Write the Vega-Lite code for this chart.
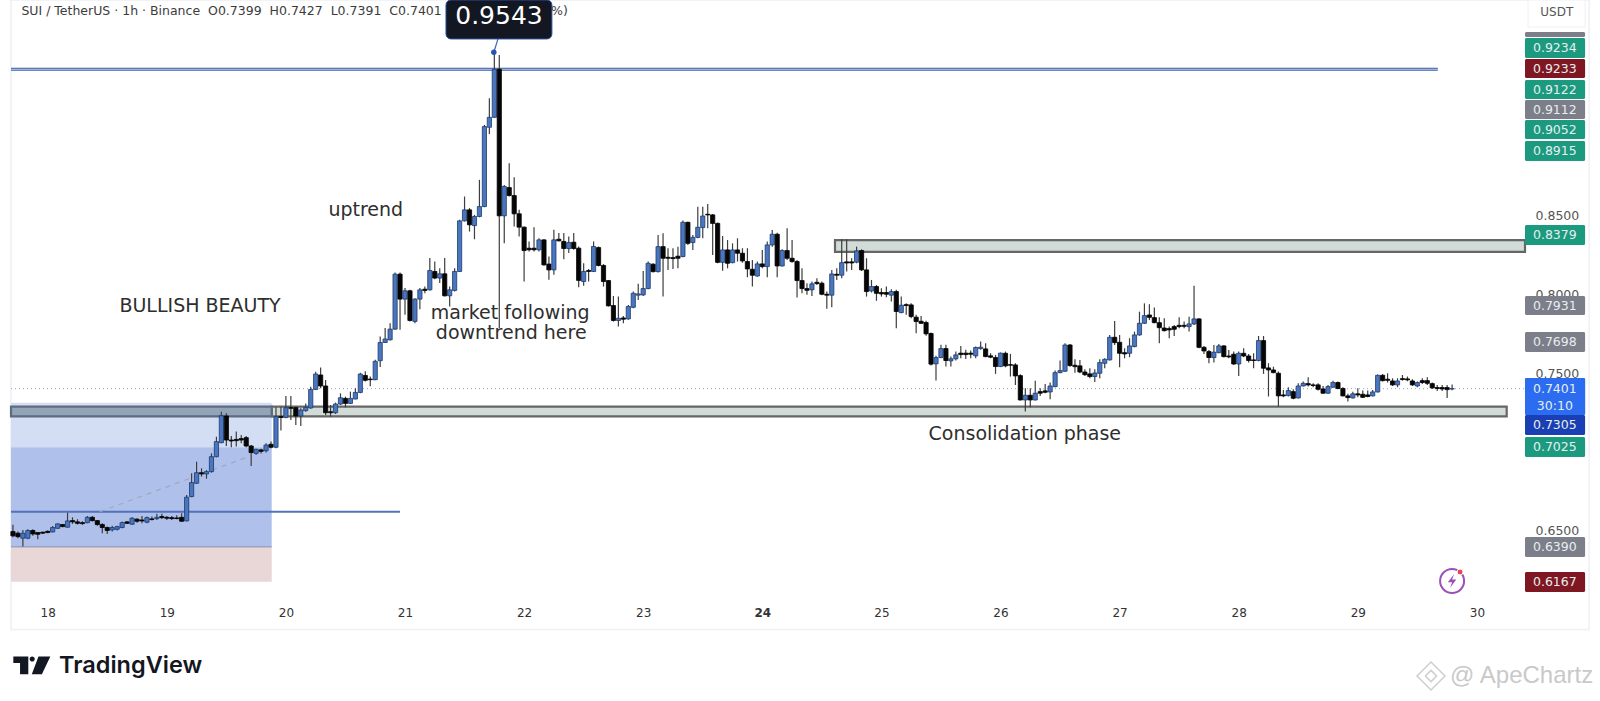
{
"$schema":"https://vega.github.io/schema/vega-lite/v6.json",
"width":1514,"height":600,
"autosize":{"type":"none"},
"padding":{"left":11,"top":0,"right":75,"bottom":101},
"background":"white",
"config":{"view":{"stroke":null},"font":"DejaVu Sans"},
"datasets":{
"candles":[
{"h":-7,"o":0.6491,"hi":0.6534,"lo":0.6455,"c":0.6464},{"h":-6,"o":0.6481,"hi":0.6491,"lo":0.6449,"c":0.6459},{"h":-5,"o":0.6449,"hi":0.6502,"lo":0.6396,"c":0.6481},{"h":-4,"o":0.6449,"hi":0.6506,"lo":0.6442,"c":0.6498},{"h":-3,"o":0.6498,"hi":0.6506,"lo":0.6464,"c":0.6476},{"h":-2,"o":0.6485,"hi":0.6485,"lo":0.6442,"c":0.6474},{"h":-1,"o":0.6487,"hi":0.6491,"lo":0.6476,"c":0.6481},
{"h":0,"o":0.6493,"hi":0.6498,"lo":0.6481,"c":0.6485},{"h":1,"o":0.6489,"hi":0.6527,"lo":0.6487,"c":0.6517},{"h":2,"o":0.6512,"hi":0.6544,"lo":0.651,"c":0.654},{"h":3,"o":0.6536,"hi":0.654,"lo":0.6519,"c":0.6523},{"h":4,"o":0.6519,"hi":0.6612,"lo":0.6517,"c":0.6559},{"h":5,"o":0.6561,"hi":0.6582,"lo":0.654,"c":0.6553},{"h":6,"o":0.6553,"hi":0.657,"lo":0.6536,"c":0.6544},{"h":7,"o":0.6548,"hi":0.6557,"lo":0.6534,"c":0.6542},
{"h":8,"o":0.6548,"hi":0.6591,"lo":0.6544,"c":0.6582},{"h":9,"o":0.6582,"hi":0.6591,"lo":0.6555,"c":0.6561},{"h":10,"o":0.6561,"hi":0.6565,"lo":0.6529,"c":0.6536},{"h":11,"o":0.6536,"hi":0.6544,"lo":0.6481,"c":0.6517},{"h":12,"o":0.6517,"hi":0.6523,"lo":0.6476,"c":0.6498},{"h":13,"o":0.6502,"hi":0.6529,"lo":0.6491,"c":0.6517},{"h":14,"o":0.6506,"hi":0.6529,"lo":0.6498,"c":0.6523},{"h":15,"o":0.6517,"hi":0.6555,"lo":0.6512,"c":0.6548},
{"h":16,"o":0.6553,"hi":0.6557,"lo":0.654,"c":0.6544},{"h":17,"o":0.6538,"hi":0.6582,"lo":0.6534,"c":0.6576},{"h":18,"o":0.657,"hi":0.6576,"lo":0.6548,"c":0.6557},{"h":19,"o":0.6565,"hi":0.6591,"lo":0.6544,"c":0.6559},{"h":20,"o":0.6551,"hi":0.6587,"lo":0.6544,"c":0.658},{"h":21,"o":0.6572,"hi":0.6587,"lo":0.6561,"c":0.6568},{"h":22,"o":0.6574,"hi":0.6604,"lo":0.6565,"c":0.6582},{"h":23,"o":0.6587,"hi":0.6604,"lo":0.6572,"c":0.658},
{"h":24,"o":0.6582,"hi":0.6591,"lo":0.6565,"c":0.6576},{"h":25,"o":0.658,"hi":0.6591,"lo":0.6565,"c":0.6574},{"h":26,"o":0.6578,"hi":0.6595,"lo":0.657,"c":0.6574},{"h":27,"o":0.6582,"hi":0.6608,"lo":0.6553,"c":0.6557},{"h":28,"o":0.6559,"hi":0.6724,"lo":0.6557,"c":0.671},{"h":29,"o":0.6714,"hi":0.6862,"lo":0.671,"c":0.6803},{"h":30,"o":0.6799,"hi":0.6936,"lo":0.6794,"c":0.6866},{"h":31,"o":0.6866,"hi":0.6894,"lo":0.6841,"c":0.6858},
{"h":32,"o":0.6858,"hi":0.6883,"lo":0.6828,"c":0.6873},{"h":33,"o":0.6873,"hi":0.6989,"lo":0.6866,"c":0.6968},{"h":34,"o":0.6968,"hi":0.7095,"lo":0.6964,"c":0.7064},{"h":35,"o":0.7057,"hi":0.7254,"lo":0.7053,"c":0.7229},{"h":36,"o":0.7227,"hi":0.7244,"lo":0.7036,"c":0.7074},{"h":37,"o":0.7074,"hi":0.71,"lo":0.7028,"c":0.7068},{"h":38,"o":0.7078,"hi":0.7129,"lo":0.7032,"c":0.707},{"h":39,"o":0.7083,"hi":0.7106,"lo":0.7053,"c":0.7074},
{"h":40,"o":0.7089,"hi":0.71,"lo":0.7028,"c":0.7036},{"h":41,"o":0.7036,"hi":0.7042,"lo":0.6909,"c":0.6994},{"h":42,"o":0.6989,"hi":0.7019,"lo":0.6981,"c":0.7015},{"h":43,"o":0.7011,"hi":0.7019,"lo":0.6989,"c":0.7002},{"h":44,"o":0.7006,"hi":0.7053,"lo":0.6994,"c":0.7042},{"h":45,"o":0.7047,"hi":0.7064,"lo":0.7021,"c":0.7028},{"h":46,"o":0.7028,"hi":0.7282,"lo":0.7021,"c":0.7223},{"h":47,"o":0.7223,"hi":0.7286,"lo":0.7134,"c":0.7218},
{"h":48,"o":0.7218,"hi":0.7354,"lo":0.7212,"c":0.728},{"h":49,"o":0.728,"hi":0.7354,"lo":0.7201,"c":0.7276},{"h":50,"o":0.728,"hi":0.7286,"lo":0.717,"c":0.7227},{"h":51,"o":0.7227,"hi":0.7276,"lo":0.7163,"c":0.7265},{"h":52,"o":0.7261,"hi":0.7307,"lo":0.7254,"c":0.7282},{"h":53,"o":0.7278,"hi":0.7413,"lo":0.7273,"c":0.7396},{"h":54,"o":0.7396,"hi":0.7509,"lo":0.7392,"c":0.7494},{"h":55,"o":0.7488,"hi":0.7536,"lo":0.7403,"c":0.7418},
{"h":56,"o":0.7418,"hi":0.7456,"lo":0.7233,"c":0.7248},{"h":57,"o":0.7254,"hi":0.7297,"lo":0.7223,"c":0.7248},{"h":58,"o":0.7248,"hi":0.7312,"lo":0.724,"c":0.7303},{"h":59,"o":0.7303,"hi":0.7371,"lo":0.7297,"c":0.7343},{"h":60,"o":0.7339,"hi":0.735,"lo":0.7282,"c":0.7307},{"h":61,"o":0.7307,"hi":0.7382,"lo":0.7303,"c":0.7339},{"h":62,"o":0.7335,"hi":0.7403,"lo":0.7333,"c":0.7377},{"h":63,"o":0.7377,"hi":0.7502,"lo":0.7371,"c":0.7494},
{"h":64,"o":0.7485,"hi":0.7511,"lo":0.7447,"c":0.7454},{"h":65,"o":0.7462,"hi":0.7479,"lo":0.7416,"c":0.7458},{"h":66,"o":0.7458,"hi":0.7585,"lo":0.7454,"c":0.7575},{"h":67,"o":0.7579,"hi":0.7733,"lo":0.7539,"c":0.7695},{"h":68,"o":0.7695,"hi":0.7787,"lo":0.7691,"c":0.7717},{"h":69,"o":0.7712,"hi":0.7818,"lo":0.7708,"c":0.778},{"h":70,"o":0.778,"hi":0.814,"lo":0.7776,"c":0.813},{"h":71,"o":0.813,"hi":0.814,"lo":0.7776,"c":0.7971},
{"h":72,"o":0.7971,"hi":0.8041,"lo":0.7871,"c":0.8024},{"h":73,"o":0.8024,"hi":0.803,"lo":0.7829,"c":0.7835},{"h":74,"o":0.7829,"hi":0.7977,"lo":0.7818,"c":0.7971},{"h":75,"o":0.7971,"hi":0.8041,"lo":0.7907,"c":0.803},{"h":76,"o":0.8034,"hi":0.8051,"lo":0.8009,"c":0.8026},{"h":77,"o":0.803,"hi":0.8232,"lo":0.8026,"c":0.8153},{"h":78,"o":0.8147,"hi":0.8211,"lo":0.8098,"c":0.8105},{"h":79,"o":0.8105,"hi":0.8168,"lo":0.8073,"c":0.8132},
{"h":80,"o":0.8132,"hi":0.8232,"lo":0.7988,"c":0.7992},{"h":81,"o":0.7992,"hi":0.8051,"lo":0.7924,"c":0.803},{"h":82,"o":0.8026,"hi":0.8168,"lo":0.802,"c":0.8147},{"h":83,"o":0.8147,"hi":0.8476,"lo":0.8143,"c":0.8469},{"h":84,"o":0.8469,"hi":0.8624,"lo":0.8465,"c":0.8539},{"h":85,"o":0.8539,"hi":0.855,"lo":0.8401,"c":0.8444},{"h":86,"o":0.8439,"hi":0.8507,"lo":0.8352,"c":0.8497},{"h":87,"o":0.8497,"hi":0.873,"lo":0.8492,"c":0.856},
{"h":88,"o":0.856,"hi":0.908,"lo":0.8556,"c":0.9069},{"h":89,"o":0.9065,"hi":0.9249,"lo":0.9022,"c":0.9128},{"h":90,"o":0.9128,"hi":0.9543,"lo":0.9124,"c":0.9434},{"h":91,"o":0.9434,"hi":0.9525,"lo":0.7787,"c":0.8501},{"h":92,"o":0.8501,"hi":0.8698,"lo":0.8327,"c":0.8688},{"h":93,"o":0.8681,"hi":0.8836,"lo":0.8624,"c":0.863},{"h":94,"o":0.863,"hi":0.8747,"lo":0.8433,"c":0.8514},{"h":95,"o":0.8514,"hi":0.8539,"lo":0.837,"c":0.8429},
{"h":96,"o":0.8429,"hi":0.8433,"lo":0.8083,"c":0.828},{"h":97,"o":0.8295,"hi":0.8338,"lo":0.8274,"c":0.8285},{"h":98,"o":0.8295,"hi":0.8429,"lo":0.8274,"c":0.8285},{"h":99,"o":0.8285,"hi":0.8359,"lo":0.8274,"c":0.8348},{"h":100,"o":0.8348,"hi":0.8352,"lo":0.8183,"c":0.8189},{"h":101,"o":0.8194,"hi":0.8242,"lo":0.8094,"c":0.8157},{"h":102,"o":0.8157,"hi":0.8412,"lo":0.8126,"c":0.8348},{"h":103,"o":0.8352,"hi":0.8391,"lo":0.8338,"c":0.8342},
{"h":104,"o":0.8338,"hi":0.8391,"lo":0.8225,"c":0.8293},{"h":105,"o":0.8293,"hi":0.837,"lo":0.8264,"c":0.8331},{"h":106,"o":0.8333,"hi":0.8391,"lo":0.8285,"c":0.8293},{"h":107,"o":0.8295,"hi":0.8306,"lo":0.8047,"c":0.809},{"h":108,"o":0.8083,"hi":0.82,"lo":0.8056,"c":0.8147},{"h":109,"o":0.8153,"hi":0.8162,"lo":0.8083,"c":0.8147},{"h":110,"o":0.8147,"hi":0.8338,"lo":0.8143,"c":0.8306},{"h":111,"o":0.8299,"hi":0.8306,"lo":0.8179,"c":0.8185},
{"h":112,"o":0.8185,"hi":0.8194,"lo":0.8051,"c":0.8083},{"h":113,"o":0.8089,"hi":0.8093,"lo":0.7924,"c":0.7928},{"h":114,"o":0.793,"hi":0.7991,"lo":0.7828,"c":0.7835},{"h":115,"o":0.7835,"hi":0.7987,"lo":0.7796,"c":0.7849},{"h":116,"o":0.7851,"hi":0.7864,"lo":0.7817,"c":0.7843},{"h":117,"o":0.7845,"hi":0.7934,"lo":0.7839,"c":0.7924},{"h":118,"o":0.7919,"hi":0.8019,"lo":0.7913,"c":0.8008},{"h":119,"o":0.7996,"hi":0.8068,"lo":0.7966,"c":0.8004},
{"h":120,"o":0.7998,"hi":0.815,"lo":0.7991,"c":0.8038},{"h":121,"o":0.8038,"hi":0.821,"lo":0.8034,"c":0.8199},{"h":122,"o":0.8193,"hi":0.8199,"lo":0.814,"c":0.8146},{"h":123,"o":0.8146,"hi":0.8379,"lo":0.814,"c":0.8305},{"h":124,"o":0.8305,"hi":0.839,"lo":0.7987,"c":0.8231},{"h":125,"o":0.8237,"hi":0.8295,"lo":0.8157,"c":0.8231},{"h":126,"o":0.8235,"hi":0.8295,"lo":0.8163,"c":0.8229},{"h":127,"o":0.8244,"hi":0.8305,"lo":0.8167,"c":0.8231},
{"h":128,"o":0.8242,"hi":0.8471,"lo":0.8237,"c":0.846},{"h":129,"o":0.846,"hi":0.8464,"lo":0.8316,"c":0.8326},{"h":130,"o":0.8331,"hi":0.8379,"lo":0.8284,"c":0.8364},{"h":131,"o":0.8364,"hi":0.8559,"lo":0.8358,"c":0.8428},{"h":132,"o":0.8426,"hi":0.8559,"lo":0.8358,"c":0.85},{"h":133,"o":0.8511,"hi":0.8577,"lo":0.8422,"c":0.8507},{"h":134,"o":0.8507,"hi":0.8513,"lo":0.8252,"c":0.8453},{"h":135,"o":0.8453,"hi":0.8458,"lo":0.8199,"c":0.8205},
{"h":136,"o":0.8205,"hi":0.8373,"lo":0.8152,"c":0.8284},{"h":137,"o":0.8284,"hi":0.8347,"lo":0.8167,"c":0.8199},{"h":138,"o":0.8203,"hi":0.8326,"lo":0.8199,"c":0.8284},{"h":139,"o":0.8284,"hi":0.8358,"lo":0.821,"c":0.8263},{"h":140,"o":0.8263,"hi":0.8295,"lo":0.8203,"c":0.8214},{"h":141,"o":0.821,"hi":0.8295,"lo":0.811,"c":0.8163},{"h":142,"o":0.8161,"hi":0.822,"lo":0.8051,"c":0.8123},{"h":143,"o":0.8118,"hi":0.821,"lo":0.8114,"c":0.8195},
{"h":144,"o":0.8195,"hi":0.8284,"lo":0.8167,"c":0.8178},{"h":145,"o":0.8178,"hi":0.8337,"lo":0.811,"c":0.8316},{"h":146,"o":0.8316,"hi":0.8411,"lo":0.8305,"c":0.8384},{"h":147,"o":0.8384,"hi":0.8394,"lo":0.811,"c":0.8182},{"h":148,"o":0.8182,"hi":0.8288,"lo":0.8178,"c":0.828},{"h":149,"o":0.828,"hi":0.8422,"lo":0.822,"c":0.8231},{"h":150,"o":0.8231,"hi":0.8347,"lo":0.8203,"c":0.821},{"h":151,"o":0.821,"hi":0.822,"lo":0.7981,"c":0.8089},
{"h":152,"o":0.8089,"hi":0.8167,"lo":0.8008,"c":0.8038},{"h":153,"o":0.8038,"hi":0.8072,"lo":0.7998,"c":0.8027},{"h":154,"o":0.803,"hi":0.8083,"lo":0.7991,"c":0.8068},{"h":155,"o":0.8078,"hi":0.8104,"lo":0.8061,"c":0.807},{"h":156,"o":0.8072,"hi":0.8083,"lo":0.7996,"c":0.8002},{"h":157,"o":0.8002,"hi":0.8019,"lo":0.7909,"c":0.7996},{"h":158,"o":0.7996,"hi":0.8157,"lo":0.7919,"c":0.8131},{"h":159,"o":0.8129,"hi":0.8167,"lo":0.8093,"c":0.8123},
{"h":160,"o":0.8123,"hi":0.8352,"lo":0.8104,"c":0.8203},{"h":161,"o":0.8208,"hi":0.8352,"lo":0.8146,"c":0.8201},{"h":162,"o":0.8208,"hi":0.8231,"lo":0.8157,"c":0.8201},{"h":163,"o":0.8206,"hi":0.8305,"lo":0.8199,"c":0.8278},{"h":164,"o":0.828,"hi":0.8288,"lo":0.815,"c":0.8157},{"h":165,"o":0.8157,"hi":0.8231,"lo":0.7987,"c":0.8019},{"h":166,"o":0.8023,"hi":0.8093,"lo":0.8013,"c":0.8051},{"h":167,"o":0.8051,"hi":0.8061,"lo":0.796,"c":0.8008},
{"h":168,"o":0.8013,"hi":0.804,"lo":0.7987,"c":0.8004},{"h":169,"o":0.8013,"hi":0.8051,"lo":0.7983,"c":0.8002},{"h":170,"o":0.7996,"hi":0.8034,"lo":0.7955,"c":0.8019},{"h":171,"o":0.8019,"hi":0.803,"lo":0.7786,"c":0.7892},{"h":172,"o":0.7885,"hi":0.7987,"lo":0.7881,"c":0.7932},{"h":173,"o":0.7936,"hi":0.7945,"lo":0.7871,"c":0.793},{"h":174,"o":0.7934,"hi":0.7945,"lo":0.7849,"c":0.786},{"h":175,"o":0.7856,"hi":0.7871,"lo":0.7754,"c":0.7828},
{"h":176,"o":0.783,"hi":0.7864,"lo":0.7813,"c":0.7817},{"h":177,"o":0.7822,"hi":0.7834,"lo":0.7737,"c":0.775},{"h":178,"o":0.7752,"hi":0.7758,"lo":0.7548,"c":0.7557},{"h":179,"o":0.7559,"hi":0.761,"lo":0.7453,"c":0.7599},{"h":180,"o":0.7599,"hi":0.768,"lo":0.7595,"c":0.7656},{"h":181,"o":0.7656,"hi":0.768,"lo":0.7542,"c":0.758},{"h":182,"o":0.7578,"hi":0.7606,"lo":0.7542,"c":0.7591},{"h":183,"o":0.7591,"hi":0.7637,"lo":0.758,"c":0.7616},
{"h":184,"o":0.7627,"hi":0.7673,"lo":0.7595,"c":0.7618},{"h":185,"o":0.7627,"hi":0.7648,"lo":0.7589,"c":0.7618},{"h":186,"o":0.7627,"hi":0.7644,"lo":0.7595,"c":0.762},{"h":187,"o":0.761,"hi":0.7669,"lo":0.7595,"c":0.7663},{"h":188,"o":0.7656,"hi":0.7701,"lo":0.7648,"c":0.7665},{"h":189,"o":0.7654,"hi":0.769,"lo":0.7601,"c":0.7605},{"h":190,"o":0.761,"hi":0.7627,"lo":0.7595,"c":0.7601},{"h":191,"o":0.7599,"hi":0.7616,"lo":0.7495,"c":0.7542},
{"h":192,"o":0.7542,"hi":0.7631,"lo":0.7538,"c":0.7627},{"h":193,"o":0.7626,"hi":0.7637,"lo":0.7537,"c":0.7546},{"h":194,"o":0.7554,"hi":0.7622,"lo":0.7478,"c":0.755},{"h":195,"o":0.7552,"hi":0.7563,"lo":0.7425,"c":0.7482},{"h":196,"o":0.7484,"hi":0.7493,"lo":0.7325,"c":0.7329},{"h":197,"o":0.7329,"hi":0.7404,"lo":0.7255,"c":0.7359},{"h":198,"o":0.7359,"hi":0.7404,"lo":0.7283,"c":0.7329},{"h":199,"o":0.7329,"hi":0.7452,"lo":0.7325,"c":0.7372},
{"h":200,"o":0.7382,"hi":0.7404,"lo":0.7355,"c":0.7372},{"h":201,"o":0.7387,"hi":0.7431,"lo":0.7372,"c":0.7378},{"h":202,"o":0.738,"hi":0.744,"lo":0.7334,"c":0.7418},{"h":203,"o":0.7414,"hi":0.7516,"lo":0.741,"c":0.7503},{"h":204,"o":0.7503,"hi":0.758,"lo":0.7499,"c":0.7516},{"h":205,"o":0.7512,"hi":0.769,"lo":0.7507,"c":0.7679},{"h":206,"o":0.7679,"hi":0.7686,"lo":0.7541,"c":0.7548},{"h":207,"o":0.755,"hi":0.7588,"lo":0.7503,"c":0.7541},
{"h":208,"o":0.7546,"hi":0.7584,"lo":0.7499,"c":0.7507},{"h":209,"o":0.7507,"hi":0.7524,"lo":0.7482,"c":0.749},{"h":210,"o":0.7495,"hi":0.7531,"lo":0.7467,"c":0.7478},{"h":211,"o":0.7478,"hi":0.7524,"lo":0.7444,"c":0.7501},{"h":212,"o":0.7499,"hi":0.7588,"lo":0.7467,"c":0.7567},{"h":213,"o":0.7562,"hi":0.7594,"lo":0.7531,"c":0.7588},{"h":214,"o":0.7584,"hi":0.7743,"lo":0.758,"c":0.7728},{"h":215,"o":0.7728,"hi":0.7832,"lo":0.7679,"c":0.7694},
{"h":216,"o":0.7696,"hi":0.7743,"lo":0.7537,"c":0.7626},{"h":217,"o":0.763,"hi":0.7658,"lo":0.7594,"c":0.7622},{"h":218,"o":0.7626,"hi":0.7722,"lo":0.7601,"c":0.7673},{"h":219,"o":0.7669,"hi":0.7764,"lo":0.7664,"c":0.7743},{"h":220,"o":0.7743,"hi":0.7891,"lo":0.7738,"c":0.7817},{"h":221,"o":0.7817,"hi":0.7944,"lo":0.7813,"c":0.7866},{"h":222,"o":0.787,"hi":0.7938,"lo":0.7838,"c":0.7855},{"h":223,"o":0.7853,"hi":0.7917,"lo":0.7817,"c":0.7821},
{"h":224,"o":0.7821,"hi":0.7855,"lo":0.769,"c":0.7789},{"h":225,"o":0.7787,"hi":0.7849,"lo":0.7764,"c":0.777},{"h":226,"o":0.7783,"hi":0.7796,"lo":0.7722,"c":0.7775},{"h":227,"o":0.7796,"hi":0.7806,"lo":0.7736,"c":0.7779},{"h":228,"o":0.7804,"hi":0.7855,"lo":0.7785,"c":0.7796},{"h":229,"o":0.7804,"hi":0.7828,"lo":0.7785,"c":0.7798},{"h":230,"o":0.7796,"hi":0.7859,"lo":0.7764,"c":0.7813},{"h":231,"o":0.7813,"hi":0.8056,"lo":0.7806,"c":0.7845},
{"h":232,"o":0.7845,"hi":0.7849,"lo":0.7658,"c":0.7664},{"h":233,"o":0.7664,"hi":0.7673,"lo":0.7622,"c":0.7641},{"h":234,"o":0.7637,"hi":0.7647,"lo":0.7563,"c":0.7599},{"h":235,"o":0.7599,"hi":0.7679,"lo":0.7567,"c":0.7633},{"h":236,"o":0.763,"hi":0.7686,"lo":0.7626,"c":0.7673},{"h":237,"o":0.7673,"hi":0.7679,"lo":0.7599,"c":0.7605},{"h":238,"o":0.7609,"hi":0.7647,"lo":0.7594,"c":0.7603},{"h":239,"o":0.762,"hi":0.7637,"lo":0.7552,"c":0.7558},
{"h":240,"o":0.7558,"hi":0.7637,"lo":0.7482,"c":0.7626},{"h":241,"o":0.7626,"hi":0.7658,"lo":0.7601,"c":0.7609},{"h":242,"o":0.7609,"hi":0.7622,"lo":0.7567,"c":0.758},{"h":243,"o":0.7584,"hi":0.7626,"lo":0.7531,"c":0.758},{"h":244,"o":0.758,"hi":0.7736,"lo":0.7575,"c":0.7707},{"h":245,"o":0.7707,"hi":0.7736,"lo":0.7495,"c":0.7531},{"h":246,"o":0.7533,"hi":0.7563,"lo":0.7351,"c":0.752},{"h":247,"o":0.752,"hi":0.7541,"lo":0.7499,"c":0.7503},
{"h":248,"o":0.7499,"hi":0.751,"lo":0.7287,"c":0.7355},{"h":249,"o":0.7361,"hi":0.7393,"lo":0.7346,"c":0.7355},{"h":250,"o":0.7357,"hi":0.741,"lo":0.7351,"c":0.7389},{"h":251,"o":0.7382,"hi":0.7397,"lo":0.7334,"c":0.734},{"h":252,"o":0.7342,"hi":0.7435,"lo":0.7338,"c":0.7418},{"h":253,"o":0.7418,"hi":0.7446,"lo":0.7414,"c":0.7435},{"h":254,"o":0.7433,"hi":0.7474,"lo":0.7414,"c":0.7425},{"h":255,"o":0.7425,"hi":0.7435,"lo":0.741,"c":0.7421},
{"h":256,"o":0.7425,"hi":0.7435,"lo":0.7389,"c":0.7397},{"h":257,"o":0.7399,"hi":0.7418,"lo":0.7368,"c":0.7372},{"h":258,"o":0.7372,"hi":0.7425,"lo":0.7368,"c":0.7414},{"h":259,"o":0.741,"hi":0.7452,"lo":0.7406,"c":0.744},{"h":260,"o":0.744,"hi":0.7446,"lo":0.7397,"c":0.7402},{"h":261,"o":0.7402,"hi":0.741,"lo":0.7351,"c":0.7355},{"h":262,"o":0.7355,"hi":0.7368,"lo":0.7319,"c":0.7344},{"h":263,"o":0.7342,"hi":0.7382,"lo":0.7338,"c":0.7368},
{"h":264,"o":0.7368,"hi":0.7404,"lo":0.7346,"c":0.7361},{"h":265,"o":0.7365,"hi":0.7389,"lo":0.7342,"c":0.7346},{"h":266,"o":0.7361,"hi":0.7389,"lo":0.7346,"c":0.7351},{"h":267,"o":0.7355,"hi":0.7393,"lo":0.7351,"c":0.738},{"h":268,"o":0.738,"hi":0.7491,"lo":0.7376,"c":0.7486},{"h":269,"o":0.7486,"hi":0.7495,"lo":0.7446,"c":0.7452},{"h":270,"o":0.7461,"hi":0.7499,"lo":0.744,"c":0.7454},{"h":271,"o":0.745,"hi":0.7467,"lo":0.7418,"c":0.7425},
{"h":272,"o":0.7425,"hi":0.7467,"lo":0.741,"c":0.745},{"h":273,"o":0.7465,"hi":0.7488,"lo":0.7452,"c":0.7459},{"h":274,"o":0.7463,"hi":0.7478,"lo":0.7448,"c":0.7457},{"h":275,"o":0.745,"hi":0.7461,"lo":0.7418,"c":0.7425},{"h":276,"o":0.7418,"hi":0.7446,"lo":0.741,"c":0.744},{"h":277,"o":0.7452,"hi":0.7467,"lo":0.7431,"c":0.744},{"h":278,"o":0.7452,"hi":0.7474,"lo":0.7425,"c":0.7435},{"h":279,"o":0.7433,"hi":0.744,"lo":0.7399,"c":0.7406},
{"h":280,"o":0.7408,"hi":0.7424,"lo":0.7386,"c":0.7402},{"h":281,"o":0.7408,"hi":0.7424,"lo":0.7386,"c":0.7399},{"h":282,"o":0.7408,"hi":0.7424,"lo":0.7341,"c":0.7395},{"h":283,"o":0.7399,"hi":0.7427,"lo":0.7391,"c":0.7401}
],
"priceTags":[
{"label":"","kind":"grey","h":297.69,"h2":309.8,"tx":303.7,"p":0.9671,"p2":0.9639,"mid":0.9655},
{"label":"0.9234","kind":"green","h":297.69,"h2":309.8,"tx":303.7,"p":0.9633,"p2":0.9506,"mid":0.9569},
{"label":"0.9233","kind":"red","h":297.69,"h2":309.8,"tx":303.7,"p":0.9499,"p2":0.9378,"mid":0.9436},
{"label":"0.9122","kind":"green","h":297.69,"h2":309.8,"tx":303.7,"p":0.9366,"p2":0.9245,"mid":0.9302},
{"label":"0.9112","kind":"grey","h":297.69,"h2":309.8,"tx":303.7,"p":0.9238,"p2":0.9117,"mid":0.9175},
{"label":"0.9052","kind":"green","h":297.69,"h2":309.8,"tx":303.7,"p":0.9111,"p2":0.899,"mid":0.9047},
{"label":"0.8915","kind":"green","h":297.69,"h2":309.8,"tx":303.7,"p":0.8977,"p2":0.885,"mid":0.8914},
{"label":"0.8379","kind":"green","h":297.69,"h2":309.8,"tx":303.7,"p":0.8443,"p2":0.8315,"mid":0.8379},
{"label":"0.7931","kind":"grey","h":297.69,"h2":309.8,"tx":303.7,"p":0.7991,"p2":0.787,"mid":0.7927},
{"label":"0.7698","kind":"grey","h":297.69,"h2":309.8,"tx":303.7,"p":0.7762,"p2":0.7634,"mid":0.7698},
{"label":"0.7401","kind":"last","h":297.69,"h2":309.8,"tx":303.7,"p":0.7469,"p2":0.7233,"mid":0.7399},
{"label":"30:10","kind":"last","h":297.69,"h2":309.8,"tx":303.7,"p":0.7469,"p2":0.7233,"mid":0.7291},
{"label":"0.7305","kind":"navy","h":297.69,"h2":309.8,"tx":303.7,"p":0.7233,"p2":0.7106,"mid":0.717},
{"label":"0.7025","kind":"green","h":297.69,"h2":309.8,"tx":303.7,"p":0.7093,"p2":0.6966,"mid":0.703},
{"label":"0.6390","kind":"grey","h":297.69,"h2":309.8,"tx":303.7,"p":0.6457,"p2":0.633,"mid":0.6393},
{"label":"0.6167","kind":"red","h":297.69,"h2":309.8,"tx":303.7,"p":0.6234,"p2":0.6107,"mid":0.617}
],
"notes":[
{"text":"uptrend","h":64.1,"p":0.8538},
{"text":"BULLISH BEAUTY","h":30.7,"p":0.7927},
{"text":"market following","h":93.2,"p":0.7883},
{"text":"downtrend here","h":93.4,"p":0.7755},
{"text":"Consolidation phase","h":196.9,"p":0.7112}
]
},
"encoding":{
"x":{"field":"h","type":"quantitative","title":null,
"scale":{"domain":[-7.395,297.69],"nice":false,"zero":false,"padding":0},
"axis":{"values":[0,24,48,72,96,120,144,168,192,216,240,264,288],"labelExpr":"format(18+datum.value/24,'d')","grid":false,"domain":false,"ticks":false,"labelPadding":7,"labelFontSize":12,"labelColor":"#333333","labelFont":"DejaVu Sans","labelFontWeight":{"condition":{"test":"datum.value==144","value":"bold"},"value":"normal"},"labelBound":false,"labelOverlap":false,"title":null}},
"y":{"field":"p","type":"quantitative","title":null,
"scale":{"domain":[0.60557,0.98749],"nice":false,"zero":false,"padding":0},
"axis":{"orient":"right","values":[0.65,0.75,0.8,0.85],"format":".4f","grid":false,"domain":false,"ticks":false,"labelPadding":10,"labelFontSize":12.5,"labelColor":"#555555","labelFont":"DejaVu Sans","title":null}}
},
"layer":[
{"data":{"values":[{"h":-7.395,"h2":310.6,"p":0.98749,"p2":0.5868}]},
 "mark":{"type":"rect","fill":"transparent","stroke":"#eef0f5","strokeWidth":1.5},
 "encoding":{"x2":{"field":"h2"},"y2":{"field":"p2"}}},
{"data":{"values":[
 {"part":"target","h":-7.395,"h2":45.14,"p":0.7311,"p2":0.7028},
 {"part":"reward","h":-7.395,"h2":45.14,"p":0.7028,"p2":0.6395},
 {"part":"stop","h":-7.395,"h2":45.14,"p":0.6395,"p2":0.6172}]},
 "mark":{"type":"rect"},
 "encoding":{"x2":{"field":"h2"},"y2":{"field":"p2"},
  "fill":{"field":"part","type":"nominal","legend":null,"scale":{"domain":["target","reward","stop"],"range":["#d3ddf3","#afc0ea","#e9d6d6"]}}}},
{"data":{"values":[{"h":-7.395,"h2":45.14,"p":0.6395}]},
 "mark":{"type":"rule","color":"#98a4c4","strokeWidth":1.5},
 "encoding":{"x2":{"field":"h2"}}},
{"data":{"values":[{"h":-7.395,"h2":70.99,"p":0.6618}]},
 "mark":{"type":"rule","color":"#5172b8","strokeWidth":2},
 "encoding":{"x2":{"field":"h2"}}},
{"data":{"values":[{"h":-7.395,"h2":280.1,"p":0.9434}]},
 "mark":{"type":"rule","color":"#3f5fa8","strokeWidth":3.2},
 "encoding":{"x2":{"field":"h2"}}},
{"data":{"values":[{"h":-7.395,"h2":280.1,"p":0.9434}]},
 "mark":{"type":"rule","color":"#dfe7f5","strokeWidth":0.8},
 "encoding":{"x2":{"field":"h2"}}},
{"data":{"values":[{"h":-7.395,"h2":297.69,"p":0.7401}]},
 "mark":{"type":"rule","color":"#9aa6c4","strokeWidth":1,"strokeDash":[1,3]},
 "encoding":{"x2":{"field":"h2"}}},
{"data":{"values":[{"h":10.5,"p":0.6618},{"h":40.8,"p":0.6972}]},
 "mark":{"type":"line","color":"#a0a8c0","strokeWidth":1.2,"strokeDash":[5,5]},
 "encoding":{}},
{"data":{"values":[{"h":158.65,"h2":297.69,"p":0.8347,"p2":0.8271},{"h":45.14,"h2":294,"p":0.7287,"p2":0.7224}]},
 "mark":{"type":"rect","fill":"#c6d3cf","fillOpacity":0.8,"stroke":"#666666","strokeWidth":2.2},
 "encoding":{"x2":{"field":"h2"},"y2":{"field":"p2"}}},
{"data":{"values":[{"h":-7.395,"h2":45.14,"p":0.7287,"p2":0.7224}]},
 "mark":{"type":"rect","fill":"#92a5b8","stroke":"#5f6b7d","strokeWidth":2.2},
 "encoding":{"x2":{"field":"h2"},"y2":{"field":"p2"}}},
{"data":{"name":"candles"},
 "mark":{"type":"rule","color":"#3d3d3d","strokeWidth":1.2},
 "encoding":{"y":{"field":"lo","type":"quantitative"},"y2":{"field":"hi"}}},
{"data":{"name":"candles"},
 "mark":{"type":"bar","size":4.2,"orient":"vertical","strokeWidth":0.8},
 "encoding":{"y":{"field":"o","type":"quantitative"},"y2":{"field":"c"},
  "fill":{"condition":{"test":"datum.c>=datum.o","value":"#4a76bd"},"value":"#060606"},
  "stroke":{"condition":{"test":"datum.c>=datum.o","value":"#1c3a70"},"value":"#000000"}}},
{"data":{"name":"priceTags"},
 "mark":{"type":"rect","cornerRadius":1.5},
 "encoding":{"x2":{"field":"h2"},"y2":{"field":"p2"},
  "color":{"field":"kind","type":"nominal","legend":null,"scale":{"domain":["green","red","grey","last","navy"],"range":["#1b9a80","#7f1722","#7c7e8a","#2b6cf0","#1a3fb5"]}}}},
{"data":{"values":[{"h":297.69,"h2":309.8,"p":0.8984}]},
 "mark":{"type":"rule","color":"white","strokeWidth":1.5,"strokeDash":[6,3,2,3]},
 "encoding":{"x2":{"field":"h2"}}},
{"data":{"name":"priceTags"},
 "mark":{"type":"text","fontSize":12.5,"color":"#e6eeee","align":"center","baseline":"middle"},
 "encoding":{"x":{"field":"tx","type":"quantitative"},"y":{"field":"mid","type":"quantitative"},"text":{"field":"label"}}},
{"data":{"values":[{"h":298.3,"h2":309.8,"p":0.98749,"p2":0.9703}]},
 "mark":{"type":"rect","fill":"white","stroke":"#eef0f5","strokeWidth":1},
 "encoding":{"x2":{"field":"h2"},"y2":{"field":"p2"}}},
{"data":{"values":[{"text":"USDT","h":304.1,"p":0.9798}]},
 "mark":{"type":"text","fontSize":12,"color":"#555555","align":"center","baseline":"middle"},
 "encoding":{"text":{"field":"text"}}},
{"data":{"name":"notes"},
 "mark":{"type":"text","fontSize":19,"color":"#2e2e2e","align":"center","baseline":"middle"},
 "encoding":{"text":{"field":"text"}}},
{"data":{"values":[{"text":"SUI / TetherUS · 1h · Binance\u00a0\u00a0O0.7399\u00a0\u00a0H0.7427\u00a0\u00a0L0.7391\u00a0\u00a0C0.7401\u00a0\u00a0+0.0002 (+0.03%)","h":-5.3,"p":0.9807}]},
 "mark":{"type":"text","fontSize":12.5,"color":"#3c3c3c","align":"left","baseline":"middle"},
 "encoding":{"text":{"field":"text"}}},
{"data":{"values":[{"h":90.74,"p":0.9627},{"h":89.9,"p":0.9542}]},
 "mark":{"type":"line","color":"#3f66b8","strokeWidth":1.2},
 "encoding":{}},
{"data":{"values":[{"h":89.9,"p":0.9542}]},
 "mark":{"type":"point","filled":true,"color":"#2a52b5","size":30,"opacity":1},
 "encoding":{}},
{"data":{"values":[{"h":80.26,"h2":101.6,"p":0.9875,"p2":0.9627}]},
 "mark":{"type":"rect","fill":"#131722","stroke":"#2a4f9a","strokeWidth":1,"cornerRadius":5},
 "encoding":{"x2":{"field":"h2"},"y2":{"field":"p2"}}},
{"data":{"values":[{"text":"0.9543","h":90.94,"p":0.9773}]},
 "mark":{"type":"text","fontSize":25,"color":"white","align":"center","baseline":"middle"},
 "encoding":{"text":{"field":"text"}}},
{"data":{"values":[{"h":283,"p":0.6177}]},
 "mark":{"type":"point","shape":"circle","size":576,"filled":false,"stroke":"#9b4fb8","strokeWidth":2,"opacity":1},
 "encoding":{}},
{"data":{"values":[{"h":283,"p":0.6177}]},
 "mark":{"type":"point","shape":"M.3,-1 L-.6,.2 H0 L-.3,1 L.6,-.2 H0 Z","size":196,"filled":true,"color":"#9b4fb8","opacity":1},
 "encoding":{}},
{"data":{"values":[{"h":284.6,"p":0.6234}]},
 "mark":{"type":"point","shape":"circle","size":36,"filled":true,"fill":"#e5484d","stroke":"white","strokeWidth":1,"opacity":1},
 "encoding":{}},
{"data":{"values":[{"h":-3.2,"p":0.5639}]},
 "mark":{"type":"point","shape":"M-1,-.48 H-.19 V.48 H-.636 V-.136 H-1 Z M-.12,-.35 a.14,.14 0 1,0 .28,0 a.14,.14 0 1,0 -.28,0 Z M.36,-.48 H1 L.545,.48 H0 Z","size":1369,"filled":true,"color":"#131722","opacity":1},
 "encoding":{}},
{"data":{"values":[{"text":"TradingView","h":2.28,"p":0.5636}]},
 "mark":{"type":"text","font":"Inter","fontWeight":600,"fontSize":23.5,"color":"#131722","align":"left","baseline":"middle"},
 "encoding":{"text":{"field":"text"}}},
{"data":{"values":[{"h":278.75,"p":0.5572}]},
 "mark":{"type":"point","shape":"M0,-1 L1,0 L0,1 L-1,0 Z M0,-.4 L.4,0 L0,.4 L-.4,0 Z","size":784,"filled":false,"stroke":"#cfcfcf","strokeWidth":1.5,"opacity":1},
 "encoding":{}},
{"data":{"values":[{"text":"@ ApeChartz","h":282.6,"p":0.5572}]},
 "mark":{"type":"text","font":"Liberation Sans","fontSize":24,"color":"#c9c9c9","align":"left","baseline":"middle"},
 "encoding":{"text":{"field":"text"}}}
]
}
